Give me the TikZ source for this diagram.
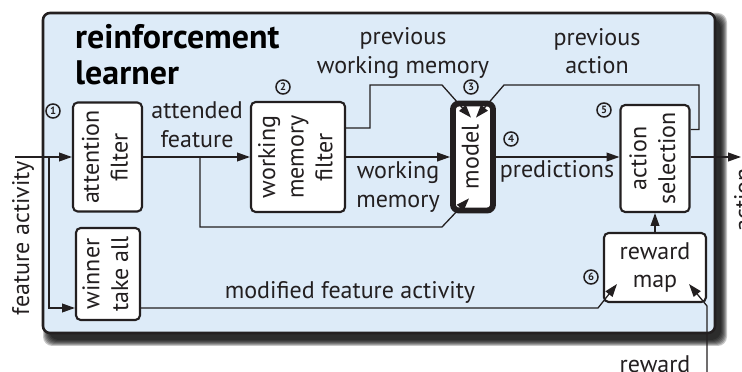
\documentclass[tikz,border=0pt]{standalone}
\usepackage{fontspec}
\setmainfont{PT Sans}
\usetikzlibrary{arrows.meta}

\definecolor{panel}{RGB}{221,235,248}
\definecolor{ink}{RGB}{35,31,32}

\tikzset{
  block/.style={draw=ink, fill=white, line width=1.8pt, rounded corners=4pt, inner sep=0pt, align=center, text=ink},
  conn/.style={draw=ink, line width=1.1pt, -{Triangle[length=11pt,width=7.5pt]}},
  lbl/.style={text=ink, align=center, inner sep=0pt},
  stage/.style={circle, draw=ink, line width=1.3pt, minimum size=0.42cm, inner sep=0pt, text=ink, font=\fontsize{9}{9}\selectfont\bfseries},
}
\newcommand{\upright}[1]{\rotatebox{90}{\begin{tabular}{@{}c@{}}#1\end{tabular}}}

\begin{document}
\begin{tikzpicture}[x=0.03cm,y=-0.03cm,font=\fontsize{20.5}{24.5}\selectfont]
\useasboundingbox (0,0) rectangle (742,372);

\foreach \g in {0,...,6}
  \fill[black,opacity=0.22,rounded corners=8pt] (49-\g,19-\g) rectangle (721+\g,340+\g);
\draw[ink, fill=panel, line width=2.2pt, rounded corners=6pt] (43,13) rectangle (715,333);

\node[anchor=north west, inner sep=0pt, align=left, font=\fontsize{29}{31}\selectfont\bfseries] (title) at (75,24) {reinforcement\\learner};

\node[block, minimum width=2.07cm, minimum height=3.27cm] (att) at (107.5,157) {\upright{attention\\filter}};
\node[block, minimum width=1.92cm, minimum height=2.76cm] (wta) at (108,274) {\upright{winner\\take all}};
\node[block, minimum width=2.82cm, minimum height=3.3cm] (wmf) at (298,157) {\upright{working\\memory\\filter}};
\node[block, line width=5pt, rounded corners=5pt, minimum width=1.2cm, minimum height=3.21cm] (model) at (473,157) {\upright{model}};
\node[block, minimum width=2.07cm, minimum height=3.21cm] (act) at (655,158.5) {\upright{action\\selection}};
\node[block, minimum width=3.06cm, minimum height=2.07cm] (rew) at (655,267.5) {reward\\map};

\node[stage] (s1) at (53,111) {1};
\node[stage] (s2) at (283,87) {2};
\node[stage] (s3) at (471,87) {3};
\node[stage] (s4) at (511,139) {4};
\node[stage] (s5) at (604,110) {5};
\node[stage] (s6) at (591,277) {6};

\coordinate (fin) at (15,157);
\coordinate (fsplit) at (49,157);
\coordinate (asplit) at (200,157);
\coordinate (aout) at (741,157);
\coordinate (rin) at (707,372);

\draw[conn] (fin) -- (att.west);
\draw[conn] (fsplit) |- ([yshift=-1.02cm]wta.west);
\draw[conn] (att.east) -- (wmf.west);
\draw[conn] (asplit) |- (442,227) -- ([shift={(-4,-15)}]model.south);
\draw[conn] (wmf.east) -- (model.west);
\draw[conn] ([yshift=0.87cm]wmf.east) -| (370,85) -- (442,85) -- ([shift={(-2,17)}]model.north);
\draw[conn] ([yshift=0.87cm]act.east) -| (699,85) -- (504,85) -- ([shift={(3,17)}]model.north);
\draw[conn] (model.east) -- (model.east -| act.west);
\draw[conn] (act.east |- aout) -- (aout);
\draw[conn] (rew.north) -- (act.south);
\draw[conn] ([yshift=-1.02cm]wta.east) -- (598,308) -- ([shift={(14,-19)}]rew.south west);
\draw[conn] (rin) -- (707,306) -- ([shift={(-18,-19)}]rew.south east);

\node[lbl] (attlbl) at (197,125) {attended\\feature};
\node[lbl] (pwmlbl) at (403,53) {previous\\working memory};
\node[lbl] (palbl) at (597,51) {previous\\action};
\node[lbl] (wmlbl) at (398,187) {working\\memory};
\node[lbl] (predlbl) at (557,171.5) {predictions};
\node[lbl] (modlbl) at (350,292.5) {modified feature activity};
\node[lbl, rotate=90] (falbl) at (23,238) {feature activity};
\node[lbl, rotate=90, anchor=north] (actlbl) at (734,200) {action};
\node[lbl, anchor=base] (rewlbl) at (655,373) {reward};
\end{tikzpicture}
\end{document}
